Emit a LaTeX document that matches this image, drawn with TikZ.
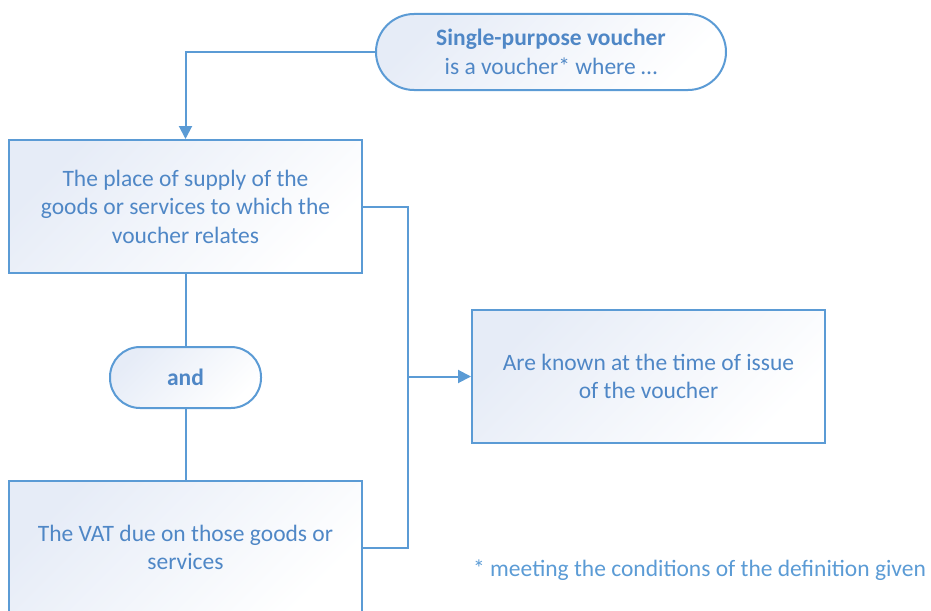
\documentclass[tikz,border=0pt]{standalone}
\usepackage{fontspec}
\setmainfont{Carlito}
\usetikzlibrary{arrows.meta}
\definecolor{edge}{HTML}{5B9BD5}
\definecolor{txt}{HTML}{4F87C6}
\definecolor{note}{HTML}{5B9BD5}
\definecolor{shade}{HTML}{E6ECF7}
\begin{document}
\begin{tikzpicture}[x=1pt,y=-1pt,
  box/.style={draw=edge, line width=2pt, top color=shade, bottom color=white, shading angle=45,
    minimum width=353pt, minimum height=133pt, inner sep=0pt, align=center,
    font=\fontsize{23.5}{28.5}\selectfont, text=txt},
  pill/.style={box},
  conn/.style={draw=edge, line width=2pt},
  tip/.style={-{Triangle[length=13pt,width=13pt]}}
]
\useasboundingbox (0,0) rectangle (931,610);
\clip (0,0) rectangle (931,610);
\node[pill, minimum width=350pt, minimum height=76pt, rounded corners=38pt] (top) at (551,52)
  {\textbf{Single-purpose voucher}\\is a voucher* where \dots};
\node[box] (place) at (185.5,206.5) {The place of supply of the\\goods or services to which the\\voucher relates};
\node[pill, minimum width=151pt, minimum height=61pt, rounded corners=30pt] (and) at (185.5,377.5) {\textbf{and}};
\node[box] (vat) at (185.5,547.5) {The VAT due on those goods or\\services};
\node[box] (known) at (648.5,376.5) {Are known at the time of issue\\of the voucher};
\node[font=\fontsize{23.5}{28.5}\selectfont, text=note, anchor=west, inner sep=0pt] (fn) at (473,570)
  {* meeting the conditions of the definition given};
\coordinate (j) at (408,376.5);
\draw[conn, tip] (top.west) -| (place.north);
\draw[conn] (place.south) -- (and.north);
\draw[conn] (and.south) -- (vat.north);
\draw[conn] (place.east) -| (j);
\draw[conn] (vat.east) -| (j);
\draw[conn, tip] (j) -- (known.west);
\end{tikzpicture}
\end{document}
